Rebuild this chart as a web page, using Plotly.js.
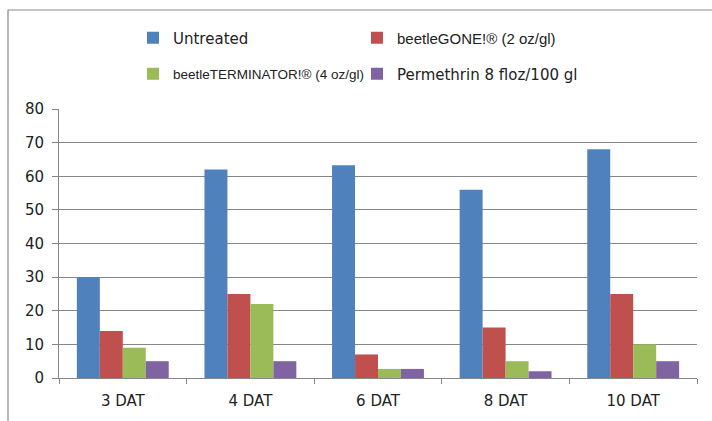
<!DOCTYPE html>
<html><head><meta charset="utf-8">
<script src="https://cdn.plot.ly/plotly-3.0.1.min.js"></script>
<style>body{margin:0;background:#fff}#c{width:712px;height:421px}</style>
</head><body><div id="c"></div>
<script>
const categories = ["3 DAT", "4 DAT", "6 DAT", "8 DAT", "10 DAT"];
const seriesNames = [
  "Untreated",
  "beetleGONE!® (2 oz/gl)",
  "beetleTERMINATOR!® (4 oz/gl)",
  "Permethrin 8 floz/100 gl"
];
const untreated = [30, 62, 63.3, 56, 68];
const beetleGone = [14, 25, 7, 15, 25];
const beetleTerminator = [9, 22, 2.7, 5, 10];
const permethrin = [5, 5, 2.7, 2, 5];
const yTicks = [0, 10, 20, 30, 40, 50, 60, 70, 80];

const colors = ["#4F81BD", "#C0504D", "#9BBB59", "#8064A2"];
const values = [untreated, beetleGone, beetleTerminator, permethrin];
const legendIds = ["legend", "legend2", "legend3", "legend4"];

const traces = values.map((v, i) => ({
  type: "bar", x: categories, y: v, name: seriesNames[i],
  marker: {color: colors[i]}, legend: legendIds[i], showlegend: true
}));

const W = 712, H = 421, L = 59, R = 15, T = 109, B = 43;
const pw = W - L - R, ph = H - T - B;
const px = x => (x - L) / pw;
const py = y => (H - B - y) / ph;

function leg(x, y, family, size) {
  return {
    orientation: "h", xanchor: "left", yanchor: "middle", x: px(x), y: py(y),
    font: {family: family, size: size, color: "#222"}, bgcolor: "rgba(0,0,0,0)",
    itemwidth: 30, visible: true
  };
}
const axFont = {family: "DejaVu Sans", size: 15, color: "#222"};
const layout = {
  width: W, height: H,
  showlegend: true,
  margin: {l: L, r: R, t: T, b: B},
  paper_bgcolor: "#fff", plot_bgcolor: "#fff",
  barmode: "group", bargap: 0.28, bargroupgap: 0,
  font: {family: "DejaVu Sans", size: 13, color: "#222"},
  xaxis: {
    type: "category", showgrid: false, showline: true, linecolor: "#868686", linewidth: 1,
    ticks: "outside", tickson: "boundaries", ticklen: 5, tickcolor: "#868686",
    ticklabelstandoff: 9, tickfont: axFont
  },
  yaxis: {
    range: [0, 80], tickvals: yTicks, showgrid: true, gridcolor: "#868686", gridwidth: 1,
    showline: true, linecolor: "#868686", ticks: "outside", ticklen: 6, tickcolor: "#868686",
    zeroline: false, ticklabelstandoff: 5, tickfont: axFont
  },
  legend: leg(133, 38, "DejaVu Sans", 15),
  legend2: leg(357, 38, "Liberation Sans", 15),
  legend3: leg(133, 74, "Liberation Sans", 13.5),
  legend4: leg(357, 74, "DejaVu Sans", 15),
  shapes: [{
    type: "rect", xref: "paper", yref: "paper",
    x0: px(8), x1: px(730), y0: py(440), y1: py(10),
    line: {color: "#8a8a8a", width: 1.2}, fillcolor: "rgba(0,0,0,0)", layer: "below"
  }]
};
Plotly.newPlot("c", traces, layout, {displayModeBar: false, staticPlot: true});
</script>
</body></html>
